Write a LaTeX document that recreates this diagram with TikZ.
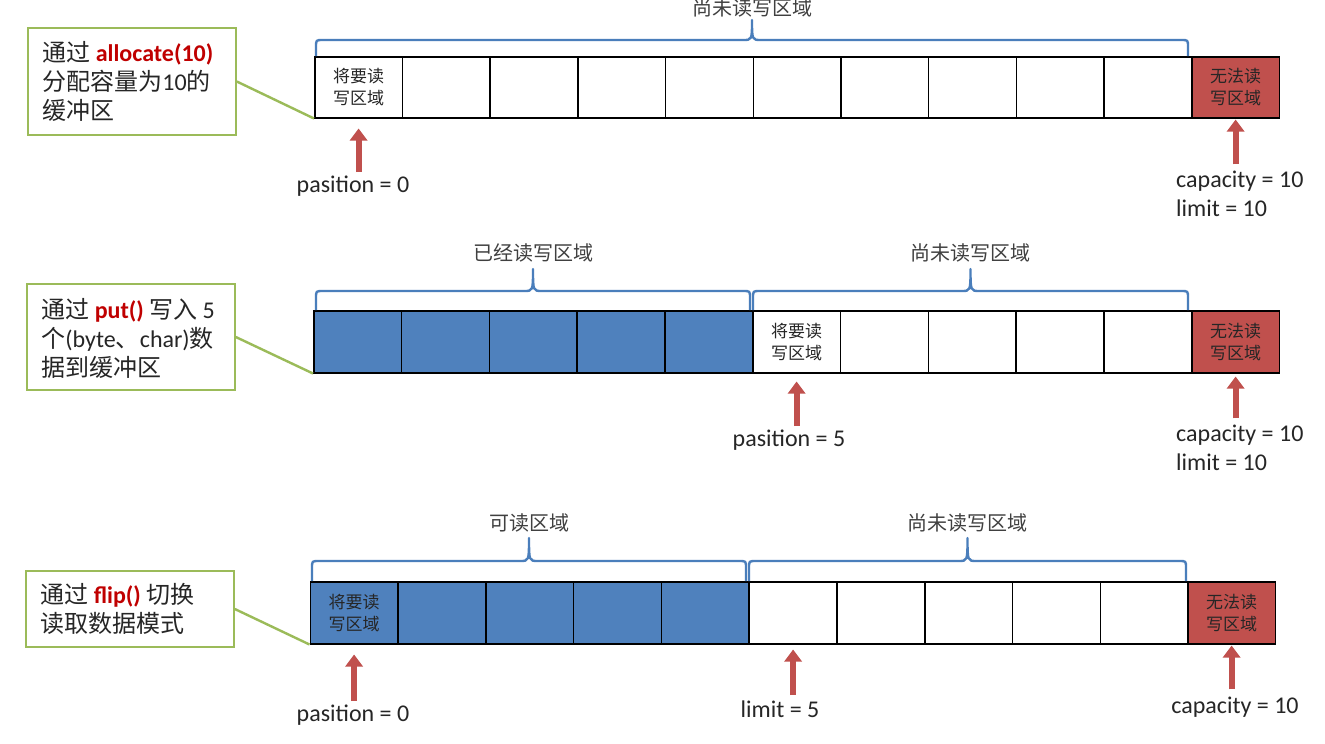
\documentclass[tikz,border=0pt]{standalone}
\usepackage{fontspec}
\setmainfont{Carlito}
\newfontfamily\cjk{Noto Sans CJK SC}
\usetikzlibrary{arrows.meta}
\definecolor{cellblue}{HTML}{4F81BD}
\definecolor{cellred}{HTML}{C0504D}
\definecolor{arrred}{HTML}{C0504D}
\definecolor{brblue}{HTML}{4A7EBB}
\definecolor{gboxc}{HTML}{9BBB59}
\definecolor{txt}{HTML}{262626}
\definecolor{lbl}{HTML}{404040}
\definecolor{kw}{HTML}{C00000}
\tikzset{
  cell/.style={draw=black, line width=1.5pt, minimum width=87.7pt, minimum height=61pt,
    inner sep=0pt, anchor=north west, text=txt, align=center,
    font=\cjk\fontsize{17}{22}\selectfont},
  bcell/.style={cell, fill=cellblue},
  rcell/.style={cell, fill=cellred},
  gbox/.style={draw=gboxc, line width=1.6pt, minimum width=208pt, inner sep=0pt},
  gtext/.style={anchor=west, align=left, inner sep=0pt, text=txt,
    font=\fontsize{24}{29}\selectfont},
  gline/.style={draw=gboxc, line width=2.4pt},
  brc/.style={draw=brblue, line width=2.4pt, line join=round},
  brlabel/.style={inner sep=0pt, text=lbl, font=\cjk\fontsize{20}{24}\selectfont},
  ptr/.style={inner sep=0pt, text=txt, font=\fontsize{24}{29}\selectfont},
  redarrow/.style={draw=arrred, line width=6pt, -{Triangle[width=17pt,length=12pt]}},
}
\newcommand\mybrace[5]{%
  \draw[brc] (#1,#3) -- (#1,#4+7) .. controls (#1,#4) .. (#1+7,#4)
    -- ({(#1+#2)/2-9},#4) .. controls ({(#1+#2)/2},#4) .. ({(#1+#2)/2},#5)
    .. controls ({(#1+#2)/2},#4) .. ({(#1+#2)/2+9},#4)
    -- (#2-7,#4) .. controls (#2,#4) .. (#2,#4+7) -- (#2,#3);}
\begin{document}
\begin{tikzpicture}[x=1pt,y=-1pt]
\useasboundingbox[fill=white] (0,0) rectangle (1325,744);

% ================= Row 1 =================
\node[cell] (r1c0) at (314,56) {将要读\\写区域};
\foreach \i in {1,...,9} \node[cell] (r1c\i) at ({314+\i*87.7},56) {};
\node[rcell] (r1c10) at (1191,56) {无法读\\写区域};
\mybrace{316}{1188}{56}{40}{20}
\node[brlabel] (r1br) at (752,8) {尚未读写区域};

\node[gbox, minimum height=107pt] (b1) at (132,81.5) {};
\node[gtext] (t1) at ([xshift=15pt]b1.west)
  {{\cjk 通过} \textcolor{kw}{\bfseries allocate(10)}\\{\cjk 分配容量为}10{\cjk 的}\\{\cjk 缓冲区}};
\draw[gline] (b1.east) -- (r1c0.south west);

\node[ptr, anchor=base] (p1) at (353,192) {pasition = 0};
\draw[redarrow, shorten <=3pt, shorten >=10pt] (p1.north -| r1c0.south) -- (r1c0.south);
\node[ptr, anchor=base west] (c1) at (1176,187) {capacity = 10};
\node[ptr, anchor=base west] (l1) at (1176,216) {limit = 10};
\draw[redarrow, shorten <=6pt, shorten >=1pt] (c1.north -| r1c10.south) -- (r1c10.south);

% ================= Row 2 =================
\foreach \i in {0,...,4} \node[bcell, minimum height=62pt] (r2c\i) at ({313+\i*87.8},310) {};
\node[cell, minimum height=62pt] (r2c5) at ({313+5*87.8},310) {将要读\\写区域};
\foreach \i in {6,...,9} \node[cell, minimum height=62pt] (r2c\i) at ({313+\i*87.8},310) {};
\node[rcell, minimum height=62pt] (r2c10) at (1191,310) {无法读\\写区域};
\mybrace{316}{750}{310}{291}{269}
\mybrace{753}{1188}{310}{291}{269}
\node[brlabel] (r2bl) at (533,253) {已经读写区域};
\node[brlabel] (r2br) at (970,253) {尚未读写区域};

\node[gbox, minimum height=106pt] (b2) at (131,337) {};
\node[gtext] (t2) at ([xshift=15pt,yshift=-1pt]b2.west)
  {{\cjk 通过} \textcolor{kw}{\bfseries put()} {\cjk 写入} 5\\{\cjk 个}(byte{\cjk 、}char){\cjk 数}\\{\cjk 据到缓冲区}};
\draw[gline] (b2.east) -- (r2c0.south west);

\node[ptr, anchor=base] (p2) at (789,446) {pasition = 5};
\draw[redarrow, shorten <=3pt, shorten >=8pt] (p2.north -| r2c5.south) -- (r2c5.south);
\node[ptr, anchor=base west] (c2) at (1176,441) {capacity = 10};
\node[ptr, anchor=base west] (l2) at (1176,470) {limit = 10};
\draw[redarrow, shorten <=6pt, shorten >=3pt] (c2.north -| r2c10.south) -- (r2c10.south);

% ================= Row 3 =================
\node[bcell, minimum height=62pt] (r3c0) at (309.5,581) {将要读\\写区域};
\foreach \i in {1,...,4} \node[bcell, minimum height=62pt] (r3c\i) at ({309.5+\i*87.8},581) {};
\foreach \i in {5,...,9} \node[cell, minimum height=62pt] (r3c\i) at ({309.5+\i*87.8},581) {};
\node[rcell, minimum height=62pt] (r3c10) at (1187,581) {无法读\\写区域};
\mybrace{312}{746}{581}{561}{538}
\mybrace{749}{1186}{581}{561}{538}
\node[brlabel] (r3bl) at (529,523) {可读区域};
\node[brlabel] (r3br) at (967,523) {尚未读写区域};

\node[gbox, minimum height=76pt] (b3) at (130,609) {};
\node[gtext] (t3) at ([xshift=15pt]b3.west)
  {{\cjk 通过} \textcolor{kw}{\bfseries flip()} {\cjk 切换}\\{\cjk 读取数据模式}};
\draw[gline] (b3.east) -- (r3c0.south west);

\node[ptr, anchor=base] (p3) at (353,721) {pasition = 0};
\draw[redarrow, shorten <=3pt, shorten >=10pt] (p3.north -| r3c0.south) -- (r3c0.south);
\node[ptr, anchor=base] (lm3) at (780,717) {limit = 5};
\draw[redarrow, shorten <=5pt, shorten >=5pt] (lm3.north -| r3c5.south) -- (r3c5.south);
\node[ptr, anchor=base] (c3) at (1235,713) {capacity = 10};
\draw[redarrow, shorten <=7pt, shorten >=1pt] (c3.north -| r3c10.south) -- (r3c10.south);
\end{tikzpicture}
\end{document}
